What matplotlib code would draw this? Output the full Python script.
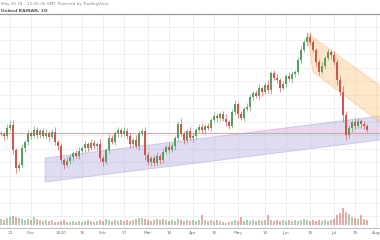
import matplotlib
matplotlib.use("Agg")
import matplotlib.pyplot as plt
from matplotlib.patches import Polygon, Rectangle
import numpy as np

# ---------------- data ----------------
closes = [16.6, 16.4, 17.2, 17.5, 15.0, 13.2, 13.5, 15.2, 15.8, 16.7,
          16.4, 17.0, 16.5, 16.9, 16.4, 16.7, 16.3, 16.8, 15.8, 15.4,
          14.0, 13.5, 13.9, 14.3, 14.7, 14.4, 14.9, 15.2, 15.6, 15.2,
          15.7, 15.4, 15.6, 14.2, 13.8, 15.0, 16.2, 15.8, 16.7, 17.0,
          16.6, 16.9, 16.4, 15.6, 16.0, 15.4, 16.7, 16.9, 14.5, 13.8,
          14.2, 13.7, 14.4, 14.0, 14.8, 15.3, 15.0, 15.4, 16.2, 17.6,
          16.6, 16.0, 16.9, 16.2, 16.4, 17.0, 17.3, 17.0, 17.4, 17.2,
          18.0, 18.4, 18.2, 18.6, 18.1, 17.8, 17.4, 18.8, 19.6, 18.6,
          18.2, 19.1, 19.3, 20.3, 20.7, 20.4, 21.2, 20.8, 21.5, 21.0,
          22.7, 22.2, 22.0, 21.2, 21.6, 22.4, 22.1, 22.6, 22.8, 24.0,
          25.0, 25.8, 26.3, 25.8, 25.0, 23.8, 22.8, 23.4, 24.2, 24.8,
          24.5, 23.8, 22.0, 20.8, 18.5, 16.5, 17.2, 17.8, 17.4, 17.9,
          17.6, 17.4, 17.0]

wick_hi = [0.3, 0.2, 0.4, 0.5, 0.5, 0.2, 0.3, 0.4, 0.2, 0.3,
           0.2, 0.4, 0.3, 0.2, 0.3, 0.4, 0.2, 0.3, 0.5, 0.2,
           0.3, 0.2, 0.4, 0.3, 0.2, 0.3, 0.4, 0.2, 0.3, 0.2,
           0.4, 0.3, 0.2, 0.5, 0.3, 0.2, 0.4, 0.3, 0.2, 0.3,
           0.2, 0.4, 0.3, 0.3, 0.2, 0.5, 0.3, 0.2, 0.4, 0.3,
           0.2, 0.3, 0.4, 0.2, 0.3, 0.2, 0.4, 0.3, 0.2, 0.3,
           0.6, 0.3, 0.2, 0.4, 0.3, 0.2, 0.3, 0.4, 0.2, 0.3,
           0.2, 0.4, 0.3, 0.2, 0.3, 0.5, 0.2, 0.3, 0.4, 0.2,
           0.3, 0.2, 0.4, 0.3, 0.2, 0.3, 0.4, 0.2, 0.3, 0.5,
           0.2, 0.3, 0.4, 0.2, 0.3, 0.2, 0.4, 0.3, 0.2, 0.3,
           0.4, 0.3, 0.4, 0.4, 0.3, 0.2, 0.3, 0.4, 0.2, 0.3,
           0.2, 0.4, 0.3, 0.5, 0.6, 0.4, 0.3, 0.2, 0.4, 0.3,
           0.2, 0.3, 0.2]

wick_lo = [0.2, 0.4, 0.3, 0.2, 0.4, 0.5, 0.3, 0.2, 0.4, 0.3,
           0.3, 0.2, 0.4, 0.3, 0.2, 0.3, 0.4, 0.2, 0.3, 0.4,
           0.3, 0.4, 0.2, 0.3, 0.4, 0.2, 0.3, 0.2, 0.4, 0.3,
           0.2, 0.3, 0.4, 0.3, 0.4, 0.2, 0.3, 0.2, 0.3, 0.4,
           0.3, 0.2, 0.3, 0.4, 0.3, 0.2, 0.4, 0.3, 0.5, 0.3,
           0.4, 0.3, 0.2, 0.4, 0.3, 0.2, 0.3, 0.2, 0.4, 0.3,
           0.2, 0.4, 0.3, 0.2, 0.4, 0.3, 0.2, 0.3, 0.4, 0.2,
           0.3, 0.2, 0.4, 0.3, 0.2, 0.4, 0.3, 0.2, 0.3, 0.4,
           0.2, 0.3, 0.2, 0.4, 0.3, 0.2, 0.3, 0.4, 0.2, 0.3,
           0.4, 0.2, 0.3, 0.4, 0.2, 0.3, 0.2, 0.4, 0.3, 0.2,
           0.3, 0.2, 0.4, 0.3, 0.2, 0.4, 0.3, 0.2, 0.3, 0.2,
           0.4, 0.3, 0.5, 0.4, 0.7, 0.5, 0.3, 0.4, 0.3, 0.2,
           0.4, 0.3, 0.2]

volumes = [6, 5, 7, 8, 9, 8, 7, 6, 5, 6,
           5, 8, 6, 5, 4, 5, 4, 5, 3, 3,
           4, 5, 3, 3, 4, 3, 4, 3, 4, 5,
           4, 3, 4, 5, 4, 6, 5, 4, 5, 4,
           5, 4, 5, 4, 5, 6, 7, 7, 6, 5,
           4, 5, 6, 5, 6, 5, 4, 5, 4, 6,
           5, 4, 5, 4, 5, 4, 5, 10, 5, 4,
           5, 4, 5, 4, 3, 2, 3, 4, 5, 4,
           8, 4, 5, 4, 5, 4, 5, 4, 5, 10,
           5, 4, 5, 4, 5, 4, 5, 4, 5, 4,
           5, 6, 5, 4, 5, 4, 5, 4, 5, 4,
           5, 6, 10, 12, 17, 13, 11, 8, 7, 6,
           10, 6, 5]

tick_pos = [3, 10, 20, 27, 34, 41, 49, 56, 64, 71, 79, 88, 95, 103, 111, 118, 125]
tick_labels = ["21", "Dec", "2020", "16", "Feb", "17", "Mar", "16", "Apr",
               "16", "May", "15", "Jun", "15", "Jul", "15", "Aug"]

support_level = 16.7

# channels: (x, price) corner points
up_channel_x = [14.7, 127.0, 127.0, 14.7]
up_channel_y = [14.2, 18.42, 16.02, 11.8]
down_channel_x = [102.0, 127.0, 127.0, 104.0]
down_channel_y = [26.7, 21.3, 17.6, 22.8]

header_line1 = "May 20 18 \u2013 15:02:36 GMT. Powered by TradingView."
header_line2 = "United RAINAN, 1D"

# ---------------- drawing ----------------
W, H = 380, 240
fig = plt.figure(figsize=(W / 100, H / 100), dpi=100)
fig.patch.set_facecolor("white")

ax = fig.add_axes([0, 12 / H, 1, 214 / H])
ax.set_xlim(-0.33, 126.33)
ax.set_ylim(7.2, 28.6)

up_col = "#5c9e62"
dn_col = "#d0564e"

# grid
for tp in tick_pos:
    ax.axvline(tp, color="#ebebeb", lw=0.6, zorder=0)
for gy in np.arange(27.3, 7.0, -1.35):
    ax.axhline(gy, color="#eeeeee", lw=0.6, zorder=0)

# channels
ax.add_patch(Polygon(list(zip(up_channel_x, up_channel_y)), closed=True,
                     facecolor="#a49ad8", alpha=0.35, edgecolor="#8a7fd0",
                     lw=0.6, zorder=1))
ax.add_patch(Polygon(list(zip(down_channel_x, down_channel_y)), closed=True,
                     facecolor="#fbc98a", alpha=0.45, edgecolor="#f3b06a",
                     lw=0.6, zorder=1))

# support line
ax.axhline(support_level, color="#f08a8a", lw=0.6, zorder=2)

# candles
n = len(closes)
opens = [closes[0]] + closes[:-1]
for i in range(n):
    o, c = opens[i], closes[i]
    col = up_col if c >= o else dn_col
    hi = max(o, c) + wick_hi[i]
    lo = min(o, c) - wick_lo[i]
    ax.plot([i, i], [lo, hi], color=col, lw=0.45, zorder=3,
            solid_capstyle="butt")
    body = max(abs(c - o), 0.08)
    ax.add_patch(Rectangle((i - 0.25, min(o, c)), 0.5, body,
                           facecolor=col, edgecolor="none", zorder=4))

# volume
axv = ax.twinx()
axv.set_ylim(-3, 211)
vcols = []
for i in range(n):
    vcols.append(up_col if closes[i] >= opens[i] else dn_col)
axv.bar(range(n), volumes, width=0.75, color=vcols, alpha=0.5, zorder=2)
axv.set_yticks([])
for s in axv.spines.values():
    s.set_visible(False)

# axes styling
ax.set_yticks([])
ax.set_xticks(tick_pos)
ax.set_xticklabels(tick_labels, fontsize=3.2, color="#777777")
ax.tick_params(axis="x", length=0, pad=2.5)
ax.spines["left"].set_visible(False)
ax.spines["right"].set_visible(False)
ax.spines["top"].set_color("#9a9a9a")
ax.spines["top"].set_linewidth(0.9)
ax.spines["bottom"].set_color("#bbbbbb")
ax.spines["bottom"].set_linewidth(0.7)

# header
fig.text(0.003, 1 - 4 / H, header_line1, fontsize=3.0, color="#888888",
         va="center", ha="left")
fig.text(0.003, 1 - 10.5 / H, header_line2, fontsize=3.2, color="#555555",
         va="center", ha="left", fontweight="bold")

fig.savefig("out.png", dpi=100, facecolor="white")
